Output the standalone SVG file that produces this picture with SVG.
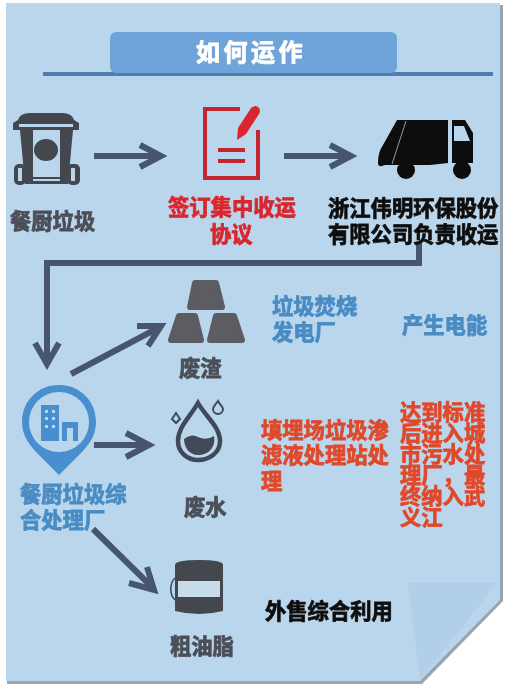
<svg xmlns="http://www.w3.org/2000/svg" width="511" height="689" viewBox="0 0 511 689">
<style>
text{font-family:"Noto Sans CJK SC","Liberation Sans",sans-serif;font-weight:700;font-size:21.3px;stroke-width:.8px}
.g{fill:#4b4f58;stroke:#4b4f58}.r{fill:#d9282e;stroke:#d9282e}.k{fill:#111;stroke:#111}.b{fill:#4a8cc4;stroke:#4a8cc4}.o{fill:#df4a2c;stroke:#df4a2c}
.c{fill:none;stroke:#46566e;stroke-width:6}
.i{fill:#44464f}
</style>
<defs><filter id="s" x="-2%" y="-2%" width="104%" height="104%"><feGaussianBlur stdDeviation="0.55"/></filter></defs>
<rect width="511" height="689" fill="#fff"/>
<g filter="url(#s)">
<g id="panel">
<path d="M7 5H503V601L422 684H7Z" fill="#98a4ae"/>
<path d="M6 3H500V600L420 681H6Z" fill="#bad6ec"/>
<path d="M408 583H497L420 680Z" fill="#b1cfe9"/>
</g>
<g id="title">
<rect x="43" y="72" width="450" height="4" fill="#4f7db0"/>
<rect x="110" y="32" width="287" height="41" rx="6" fill="#6ea4da"/>
<text x="251" y="61" text-anchor="middle" style="font-size:24px;letter-spacing:3.5px;fill:#fff;stroke:#fff">如何运作</text>
</g>
<g id="connectors">
<path class="c" d="M94 156H160M140 145L161 156L140 167"/>
<path class="c" d="M284 156H350M330 145L351 156L330 167"/>
<path class="c" d="M419 243V263H47V363M35 343L47 364L59 343"/>
<path class="c" d="M71 374L160 327M137 326L161 326L148 346"/>
<path class="c" d="M94 445H148M126 433L149 445L126 457"/>
<path class="c" d="M93 529L153 588M129 583L154 590L147 567"/>
</g>
<g id="node-bin">
<path class="i" d="M18 120Q20 113 30 113H62Q72 113 74 120L79 123V130H13V123Z"/>
<path d="M19 124H73V127H19Z" fill="#bad6ec"/>
<path class="i" d="M20 130H73L68 184H25Z"/>
<rect x="33" y="130" width="27" height="47" fill="#bad6ec"/>
<rect x="33" y="179" width="27" height="2" fill="#bad6ec"/>
<ellipse cx="46" cy="150" rx="12" ry="11" class="i"/>
<rect x="14" y="164" width="12" height="21" rx="5" class="i"/><rect x="18" y="168" width="4" height="13" fill="#bad6ec"/>
<rect x="67" y="164" width="13" height="21" rx="5" class="i"/><rect x="71" y="168" width="4" height="13" fill="#bad6ec"/>
<text class="g" x="10" y="229">餐厨垃圾</text>
</g>
<g id="node-agreement">
<path d="M240 109H205V178H258V130" fill="none" stroke="#c2282e" stroke-width="4"/>
<path d="M218 150H245M218 161H245" stroke="#c2282e" stroke-width="4" fill="none"/>
<path d="M237 140L238 128L251 108Q256 104 259 108Q261 111 259 114L246 134Z" fill="#d9282e"/>
<text class="r" x="168" y="215">签订集中收运</text>
<text class="r" x="210" y="242">协议</text>
</g>
<g id="node-truck">
<path d="M378 163Q378 152 383 145L397 120H448V163L430 165H385Q378 168 378 163Z" fill="#0c0c0e"/>
<path d="M452 120H465L473 133V163H452Z" fill="#0c0c0e"/>
<path d="M454 126H464L470 141H454Z" fill="#bad6ec"/>
<circle cx="406" cy="170" r="9" fill="#0c0c0e"/><circle cx="462" cy="170" r="9" fill="#0c0c0e"/>
<path d="M406 121L392 164" stroke="#cfd8e0" stroke-width=".7" fill="none"/>
<text class="k" x="328" y="216">浙江伟明环保股份</text>
<text class="k" x="328" y="242">有限公司负责收运</text>
</g>
<g id="node-plant">
<path fill-rule="evenodd" d="M59 385C80 385 96 401 96 422C96 436 88 446 80 454L59 475L38 454C30 446 22 436 22 422C22 401 38 385 59 385ZM59 392A30 30 0 1 0 59 452A30 30 0 1 0 59 392Z" fill="#4a8fcf"/>
<path fill-rule="evenodd" d="M41 405H59V441H41ZM45 410V413H48V410ZM52 410V413H55V410ZM45 417V420H48V417ZM52 417V420H55V417ZM45 425V428H48V425ZM52 425V428H55V425Z" fill="#4a8fcf"/>
<path d="M62 422H78V441H73V428H67V441H62Z" fill="#4a8fcf"/>
<text class="b" x="20" y="502">餐厨垃圾综</text>
<text class="b" x="20" y="528">合处理厂</text>
</g>
<g id="node-slag">
<g fill="#5c5c62" stroke="#5c5c62" stroke-width="6" stroke-linejoin="round">
<path d="M195 283H216L222 307H190Z"/>
<path d="M179 316H195L201 340H171Z"/>
<path d="M216 316H234L242 340H210Z"/>
</g>
<text class="g" x="179" y="376">废渣</text>
</g>
<g id="node-water">
<path d="M198 403C190 417 178 427 178 441C178 453 188 460 198 460C209 460 220 453 220 441C220 427 206 417 198 403Z" fill="none" stroke="#414a58" stroke-width="4.5"/>
<path d="M184 439Q192 433 198 437Q206 441 214 436C216 448 208 455 198 455C190 455 184 448 184 439Z" fill="#414a58"/>
<path d="M218 401C215 405 213 407 213 409A5 5 0 0 0 223 409C223 407 220 405 218 401Z" fill="none" stroke="#414a58" stroke-width="2"/>
<path d="M176 413L172 419L176 423L180 419Z" fill="none" stroke="#414a58" stroke-width="2"/>
<text class="g" x="184" y="515">废水</text>
</g>
<g id="node-grease">
<path d="M175 578A9 13 0 0 0 175 600" fill="none" stroke="#44464f" stroke-width="1.5"/>
<path class="i" d="M175 565Q175 560 199 560Q223 560 223 565V611Q199 617 175 611Z"/>
<rect x="178" y="581" width="42" height="16" fill="#c7dceb"/>
<text class="g" x="170" y="654">粗油脂</text>
</g>
<g id="labels">
<text class="b" x="272" y="314">垃圾焚烧</text>
<text class="b" x="272" y="340">发电厂</text>
<text class="b" x="402" y="333">产生电能</text>
<text class="o" x="261" y="438">填埋场垃圾渗</text>
<text class="o" x="261" y="463">滤液处理站处</text>
<text class="o" x="261" y="489">理</text>
<text class="o" x="400" y="420">达到标准</text>
<text class="o" x="400" y="441">后进入城</text>
<text class="o" x="400" y="462">市污水处</text>
<text class="o" x="400" y="483">理厂，最</text>
<text class="o" x="400" y="504">终纳入武</text>
<text class="o" x="400" y="525">义江</text>
<text class="k" x="265" y="619">外售综合利用</text>
</g>
</g>
</svg>
